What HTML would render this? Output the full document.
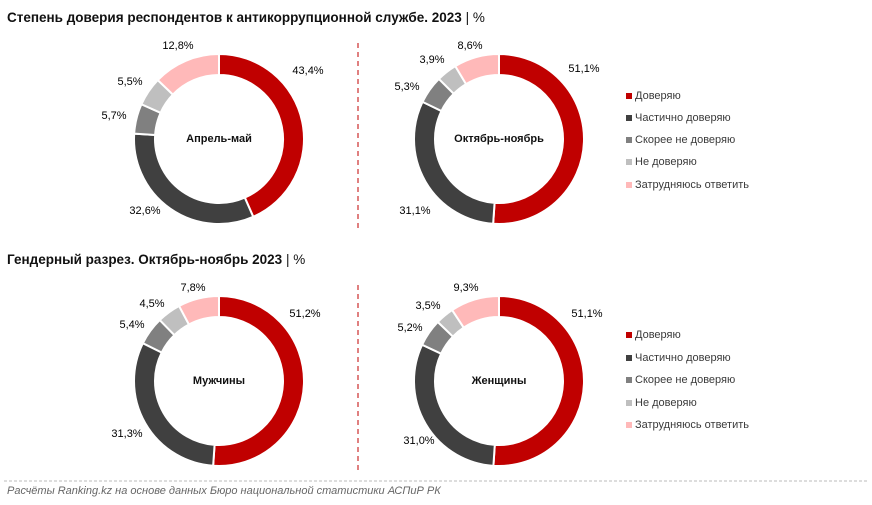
<!DOCTYPE html>
<html><head><meta charset="utf-8"><style>
body{margin:0;width:872px;height:505px;background:#fff;position:relative;font-family:"Liberation Sans",sans-serif;overflow:hidden}
.t{position:absolute;white-space:nowrap}
.title{font-weight:bold;font-size:13.5px;color:#111;left:7px}
.lb{font-size:11px;color:#000;transform:translate(-50%,-50%)}
.c{font-size:11px;font-weight:bold;color:#111;transform:translate(-50%,-50%)}
.lg{font-size:11px;color:#3a3a3a;left:635px;transform:translateY(-50%)}
.sq{position:absolute;width:6px;height:6px;left:626px}
svg{position:absolute;left:0;top:0}
</style></head><body>
<svg id="s" width="872" height="505">
<line x1="358" y1="43" x2="358" y2="232" stroke="#c00000" stroke-dasharray="5,4" stroke-width="1"/>
<line x1="358" y1="285" x2="358" y2="470" stroke="#c00000" stroke-dasharray="5,4" stroke-width="1"/>
<line x1="4" y1="481" x2="868" y2="481" stroke="#bbb" stroke-dasharray="3,2" stroke-width="1"/>
</svg>
<div class="t title" style="top:10px">Степень доверия респондентов к антикоррупционной службе. 2023 <span style="font-weight:normal">| %</span></div>
<div class="t title" style="top:252px">Гендерный разрез. Октябрь-ноябрь 2023 <span style="font-weight:normal">| %</span></div>

<div class="t c" style="left:219px;top:139px">Апрель-май</div>
<div class="t c" style="left:499px;top:139px">Октябрь-ноябрь</div>
<div class="t c" style="left:219px;top:381px">Мужчины</div>
<div class="t c" style="left:499px;top:381px">Женщины</div>

<div class="t lb" style="left:178px;top:46px">12,8%</div>
<div class="t lb" style="left:308px;top:71px">43,4%</div>
<div class="t lb" style="left:130px;top:82px">5,5%</div>
<div class="t lb" style="left:114px;top:116px">5,7%</div>
<div class="t lb" style="left:145px;top:211px">32,6%</div>

<div class="t lb" style="left:584px;top:69px">51,1%</div>
<div class="t lb" style="left:470px;top:46px">8,6%</div>
<div class="t lb" style="left:432px;top:60px">3,9%</div>
<div class="t lb" style="left:407px;top:87px">5,3%</div>
<div class="t lb" style="left:415px;top:211px">31,1%</div>

<div class="t lb" style="left:193px;top:288px">7,8%</div>
<div class="t lb" style="left:305px;top:314px">51,2%</div>
<div class="t lb" style="left:152px;top:304px">4,5%</div>
<div class="t lb" style="left:132px;top:325px">5,4%</div>
<div class="t lb" style="left:127px;top:434px">31,3%</div>

<div class="t lb" style="left:466px;top:288px">9,3%</div>
<div class="t lb" style="left:587px;top:314px">51,1%</div>
<div class="t lb" style="left:428px;top:306px">3,5%</div>
<div class="t lb" style="left:410px;top:328px">5,2%</div>
<div class="t lb" style="left:419px;top:441px">31,0%</div>

<div class="sq" style="top:93px;background:#c00000"></div><div class="t lg" style="top:96px">Доверяю</div>
<div class="sq" style="top:115px;background:#404040"></div><div class="t lg" style="top:118px">Частично доверяю</div>
<div class="sq" style="top:137px;background:#808080"></div><div class="t lg" style="top:140px">Скорее не доверяю</div>
<div class="sq" style="top:159px;background:#bfbfbf"></div><div class="t lg" style="top:162px">Не доверяю</div>
<div class="sq" style="top:182px;background:#ffb9b9"></div><div class="t lg" style="top:185px">Затрудняюсь ответить</div>

<div class="sq" style="top:332px;background:#c00000"></div><div class="t lg" style="top:335px">Доверяю</div>
<div class="sq" style="top:355px;background:#404040"></div><div class="t lg" style="top:358px">Частично доверяю</div>
<div class="sq" style="top:377px;background:#808080"></div><div class="t lg" style="top:380px">Скорее не доверяю</div>
<div class="sq" style="top:400px;background:#bfbfbf"></div><div class="t lg" style="top:403px">Не доверяю</div>
<div class="sq" style="top:422px;background:#ffb9b9"></div><div class="t lg" style="top:425px">Затрудняюсь ответить</div>

<div class="t" style="left:7px;top:485px;font-size:11px;font-style:italic;color:#666">Расчёты Ranking.kz на основе данных Бюро национальной статистики АСПиР РК</div>
<script>
var cols=["#c00000","#404040","#808080","#bfbfbf","#ffb9b9"];
var charts=[[219,139,[43.4,32.6,5.7,5.5,12.8]],[499,139,[51.1,31.1,5.3,3.9,8.6]],[219,381,[51.2,31.3,5.4,4.5,7.8]],[499,381,[51.1,31.0,5.2,3.5,9.3]]];
var s=document.getElementById('s'),ns="http://www.w3.org/2000/svg";
charts.forEach(function(c){
 var tot=c[2].reduce(function(a,b){return a+b},0),a=0,R=85,r=64;
 function pt(rad,ang){return [c[0]+rad*Math.sin(ang),c[1]-rad*Math.cos(ang)];}
 c[2].forEach(function(v,i){
  var a0=a/tot*2*Math.PI;a+=v;var a1=a/tot*2*Math.PI;var lg=(a1-a0)>Math.PI?1:0;
  var p1=pt(R,a0),p2=pt(R,a1),p3=pt(r,a1),p4=pt(r,a0);
  var d="M"+p1+"A"+R+","+R+" 0 "+lg+" 1 "+p2+"L"+p3+"A"+r+","+r+" 0 "+lg+" 0 "+p4+"Z";
  var p=document.createElementNS(ns,"path");p.setAttribute("d",d);p.setAttribute("fill",cols[i]);
  p.setAttribute("stroke","#fff");p.setAttribute("stroke-width","2");s.appendChild(p);
 });
});
</script>
</body></html>
